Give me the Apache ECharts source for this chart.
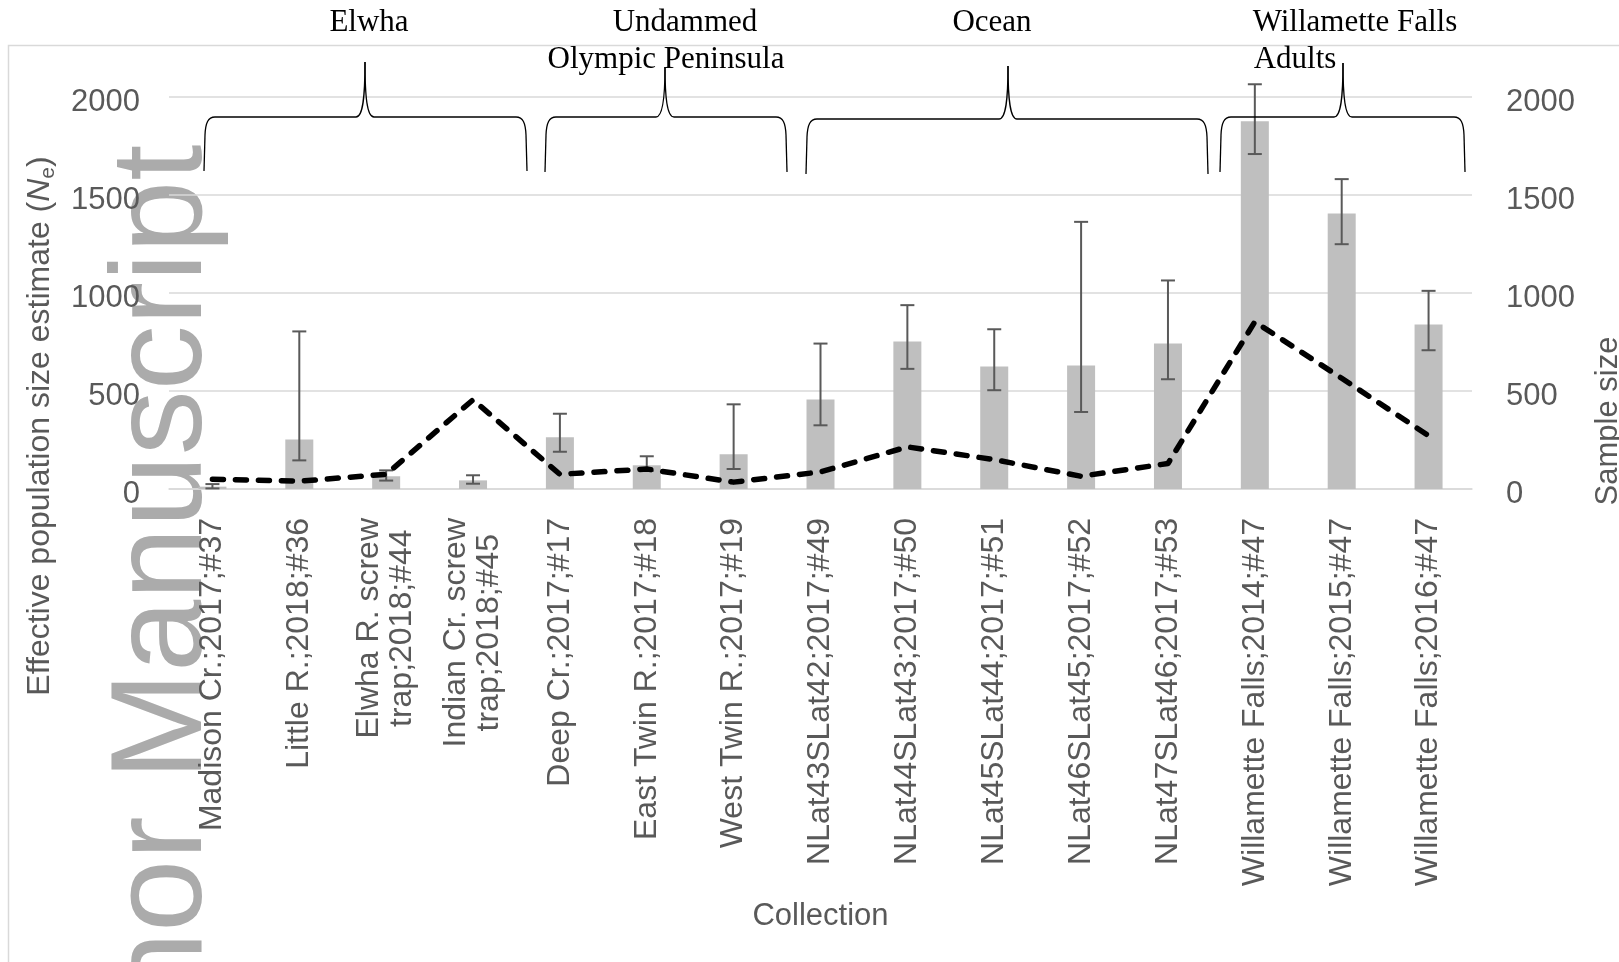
<!DOCTYPE html>
<html>
<head>
<meta charset="utf-8">
<script src="https://cdn.jsdelivr.net/npm/echarts@6/dist/echarts.min.js"></script>
<style>
html,body{margin:0;padding:0;background:#ffffff;}
#chart{width:1619px;height:962px;}
</style>
</head>
<body>
<div id="chart"></div>
<script>
// ---------- data ----------
const categories = [
  'Madison Cr.;2017;#37',
  'Little R.;2018;#36',
  'Elwha R. screw\ntrap;2018;#44',
  'Indian Cr. screw\ntrap;2018;#45',
  'Deep Cr.;2017;#17',
  'East Twin R.;2017;#18',
  'West Twin R.;2017;#19',
  'NLat43SLat42;2017;#49',
  'NLat44SLat43;2017;#50',
  'NLat45SLat44;2017;#51',
  'NLat46SLat45;2017;#52',
  'NLat47SLat46;2017;#53',
  'Willamette Falls;2014;#47',
  'Willamette Falls;2015;#47',
  'Willamette Falls;2016;#47'
];
const neEstimate = [12, 253, 65, 44, 264, 121, 177, 456, 752, 625, 630, 742, 1876, 1406, 839];
const ciLow      = [3, 146, 43, 27, 190, 92, 102, 325, 613, 504, 393, 560, 1709, 1249, 708];
const ciHigh     = [25, 804, 95, 70, 384, 167, 432, 742, 938, 815, 1363, 1064, 2065, 1581, 1011];
const sampleSize = [50, 40, 75, 455, 75, 102, 35, 87, 215, 150, 65, 130, 853, 565, 272];
const axisTicks  = {min: 0, max: 2000, interval: 500};
const groupLines = [
  {text: 'Elwha', x: 369, y: 23},
  {text: 'Undammed', x: 685, y: 23},
  {text: 'Olympic Peninsula', x: 666, y: 60},
  {text: 'Ocean', x: 992, y: 23},
  {text: 'Willamette Falls', x: 1355, y: 23},
  {text: 'Adults', x: 1295, y: 60}
];
const braces = [
  {x1: 204, x2: 527, xm: 365, yB: 171, yL: 117, yT: 62},
  {x1: 545, x2: 787, xm: 665, yB: 172, yL: 117, yT: 67},
  {x1: 806, x2: 1208, xm: 1008, yB: 174, yL: 119, yT: 66},
  {x1: 1220, x2: 1465, xm: 1343, yB: 172, yL: 117, yT: 63}
];

// ---------- styles ----------
const SANS = "'Liberation Sans', Arial, sans-serif";
const SERIF = "'Liberation Serif', 'Times New Roman', serif";
const TXT = '#595959';
const GRID = '#d9d9d9';

function braceParts(b) {
  const {x1, x2, xm, yB, yL, yT} = b;
  const st = {stroke: '#000000', lineWidth: 1.3, fill: 'none'};
  const seg = (ax, ay, bx, by) => ({type: 'line', silent: true, z: 60,
    shape: {x1: ax, y1: ay, x2: bx, y2: by}, style: st});
  const bez = (ax, ay, c1x, c1y, c2x, c2y, bx, by) => ({type: 'bezierCurve', silent: true, z: 60,
    shape: {x1: ax, y1: ay, cpx1: c1x, cpy1: c1y, cpx2: c2x, cpy2: c2y, x2: bx, y2: by}, style: st});
  return [
    seg(x1, yB, x1 + 1, yL + 18),
    bez(x1 + 1, yL + 18, x1 + 1.5, yL + 6, x1 + 4, yL, x1 + 11, yL),
    seg(x1 + 11, yL, xm - 9, yL),
    bez(xm - 9, yL, xm - 2, yL, xm, yL - 20, xm, yT),
    bez(xm, yT, xm, yL - 20, xm + 2, yL, xm + 9, yL),
    seg(xm + 9, yL, x2 - 11, yL),
    bez(x2 - 11, yL, x2 - 4, yL, x2 - 1.5, yL + 6, x2 - 1, yL + 18),
    seg(x2 - 1, yL + 18, x2, yB)
  ];
}

const graphics = [];
// chart-area border
graphics.push({type: 'rect', silent: true, z: -20,
  shape: {x: 8.5, y: 45.5, width: 1700, height: 1000},
  style: {fill: 'none', stroke: GRID, lineWidth: 1.5}});
// watermark
graphics.push({type: 'text', silent: true, z: -10, x: 165, y: 672, rotation: Math.PI / 2,
  style: {text: 'Author Manuscript', fontSize: 130, fontFamily: SANS, fill: '#ababab',
    align: 'center', verticalAlign: 'middle'}});
// axis titles
graphics.push({type: 'text', silent: true, z: 50, x: 40, y: 426, rotation: Math.PI / 2,
  style: {
    text: '{a|Effective population size estimate (}{i|N}{s|e}{a|)}',
    align: 'center', verticalAlign: 'middle',
    rich: {
      a: {fontSize: 32, fontFamily: SANS, fill: TXT, lineHeight: 38},
      i: {fontSize: 32, fontFamily: SANS, fill: TXT, fontStyle: 'italic', lineHeight: 38},
      s: {fontSize: 21, fontFamily: SANS, fill: TXT, lineHeight: 21, verticalAlign: 'bottom'}
    }
  }});
graphics.push({type: 'text', silent: true, z: 50, x: 1608, y: 421, rotation: Math.PI / 2,
  style: {text: 'Sample size', fontSize: 31, fontFamily: SANS, fill: TXT,
    align: 'center', verticalAlign: 'middle'}});
// group labels
groupLines.forEach(g => graphics.push({type: 'text', silent: true, z: 60, x: g.x, y: g.y,
  style: {text: g.text, fontSize: 31, fontFamily: SERIF, fill: '#000000',
    align: 'center', verticalAlign: 'middle'}}));
// braces
braces.forEach(b => braceParts(b).forEach(p => graphics.push(p)));

const chart = echarts.init(document.getElementById('chart'), null, {renderer: 'canvas'});

const plainNum = v => String(v);

const option = {
  animation: false,
  backgroundColor: '#ffffff',
  grid: {left: 169, right: 147, top: 97, bottom: 473, containLabel: false, outerBoundsMode: 'none'},
  xAxis: {
    type: 'category',
    data: categories,
    axisLine: {lineStyle: {color: GRID, width: 1.5}},
    axisTick: {show: false},
    axisLabel: {
      interval: 0,
      rotate: 90,
      margin: 29,
      formatter: v => v.split('\n').map(s => '{c|' + s + '}').join('\n'),
      rich: {c: {align: 'center', fontSize: 32, lineHeight: 33, color: TXT, fontFamily: SANS}}
    },
    name: 'Collection',
    nameLocation: 'middle',
    nameGap: 412,
    nameTextStyle: {fontSize: 31, color: TXT, fontFamily: SANS}
  },
  yAxis: [
    {
      type: 'value', min: axisTicks.min, max: axisTicks.max, interval: axisTicks.interval,
      axisLine: {show: false}, axisTick: {show: false},
      axisLabel: {fontSize: 31, color: TXT, fontFamily: SANS, margin: 29,
        verticalAlign: 'top', lineHeight: 10, formatter: plainNum},
      splitLine: {lineStyle: {color: GRID, width: 1.5}}
    },
    {
      type: 'value', min: axisTicks.min, max: axisTicks.max, interval: axisTicks.interval,
      position: 'right',
      axisLine: {show: false}, axisTick: {show: false},
      axisLabel: {fontSize: 31, color: TXT, fontFamily: SANS, margin: 34,
        verticalAlign: 'top', lineHeight: 10, formatter: plainNum},
      splitLine: {show: false}
    }
  ],
  series: [
    {
      name: 'Ne', type: 'bar', data: neEstimate, barWidth: 28, z: 2,
      itemStyle: {color: '#bfbfbf'}
    },
    {
      name: 'CI', type: 'custom', z: 3, clip: false,
      data: categories.map((c, i) => [i, ciLow[i], ciHigh[i]]),
      encode: {x: 0, y: [1, 2]},
      renderItem: function (params, api) {
        const i = api.value(0);
        const pLo = api.coord([i, api.value(1)]);
        const pHi = api.coord([i, api.value(2)]);
        const hw = 7;
        const st = {stroke: '#595959', lineWidth: 2};
        return {type: 'group', children: [
          {type: 'line', shape: {x1: pHi[0], y1: pHi[1], x2: pLo[0], y2: pLo[1]}, style: st},
          {type: 'line', shape: {x1: pHi[0] - hw, y1: pHi[1], x2: pHi[0] + hw, y2: pHi[1]}, style: st},
          {type: 'line', shape: {x1: pLo[0] - hw, y1: pLo[1], x2: pLo[0] + hw, y2: pLo[1]}, style: st}
        ]};
      }
    },
    {
      name: 'Sample size', type: 'line', yAxisIndex: 1, data: sampleSize, z: 5,
      symbol: 'none', smooth: false,
      lineStyle: {color: '#000000', width: 5.5, type: [11, 12], cap: 'round', join: 'round'}
    }
  ],
  graphic: {elements: graphics}
};
chart.setOption(option);
</script>
</body>
</html>
